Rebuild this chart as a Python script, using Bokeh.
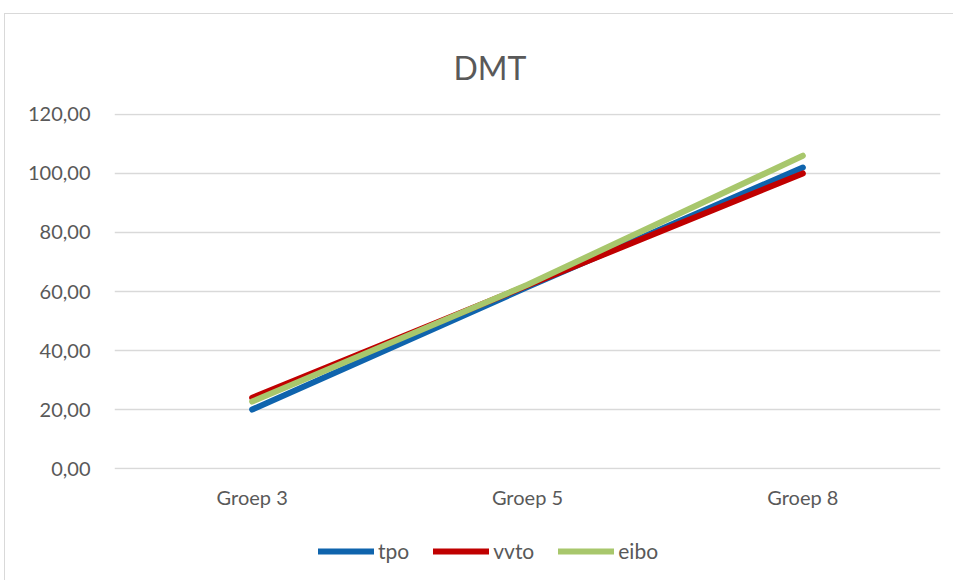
from bokeh.plotting import figure
from bokeh.layouts import column
from bokeh.models import FixedTicker, Legend, LegendItem, Title, Range1d
from bokeh.embed import file_html
from bokeh.resources import INLINE

categories = ["Groep 3", "Groep 5", "Groep 8"]
tpo = [20.0, 61.5, 102.0]
vvto = [24.0, 62.0, 100.0]
eibo = [22.7, 62.3, 106.0]
series_names = ["tpo", "vvto", "eibo"]
series_colors = ["#0F64AD", "#C00000", "#A8C76C"]
y_ticks = [0, 20, 40, 60, 80, 100, 120]
y_labels = ["0,00", "20,00", "40,00", "60,00", "80,00", "100,00", "120,00"]

FONT = "Lato"
GREY = "#595959"
BORDER = "1px solid #d9d9d9"

p = figure(x_range=categories, y_range=Range1d(-0.3, 120.3), width=949, height=511,
           output_backend="svg", toolbar_location=None,
           min_border_left=109, min_border_right=14, min_border_top=99,
           min_border_bottom=56)
p.styles = {"margin-left": "4px", "margin-top": "13px",
            "border-left": BORDER, "border-top": BORDER}
p.x_range.range_padding = 0
p.outline_line_color = None

title = Title(text="DMT", align="left", vertical_align="top", text_font=FONT,
              text_font_size="32px", text_font_style="normal", text_color=GREY,
              offset=339, standoff=50)
p.add_layout(title, "above")

for vals, col in zip([tpo, vvto, eibo], series_colors):
    p.line(categories, vals, line_color=col, line_width=6, line_cap="round",
           line_join="round")

p.yaxis.ticker = FixedTicker(ticks=y_ticks)
p.yaxis.major_label_overrides = {t: l for t, l in zip(y_ticks, y_labels)}
for ax in (p.xaxis[0], p.yaxis[0]):
    ax.axis_line_color = None
    ax.major_tick_line_color = None
    ax.minor_tick_line_color = None
    ax.major_label_text_font = FONT
    ax.major_label_text_font_size = "20px"
    ax.major_label_text_color = GREY
p.yaxis.major_label_standoff = 18
p.xaxis.major_label_standoff = 9

p.xgrid.grid_line_color = None
p.ygrid.grid_line_color = "#d9d9d9"
p.ygrid.grid_line_width = 1.3

# legend strip below the chart (its frame is aligned with the chart frame)
lg = figure(width=949, height=56, x_range=Range1d(0, 1), y_range=Range1d(0, 1),
            output_backend="svg", toolbar_location=None,
            x_axis_type=None, y_axis_type=None,
            min_border_left=0, min_border_right=0, min_border_top=0,
            min_border_bottom=0)
lg.styles = {"margin-left": "4px", "border-left": BORDER}
lg.outline_line_color = None
lg.xgrid.visible = False
lg.ygrid.visible = False
items = []
for name, col in zip(series_names, series_colors):
    # off-screen proxy line, only used for the legend swatch
    r = lg.line([5, 6], [5, 6], line_color=col, line_width=6, line_cap="round")
    items.append(LegendItem(label=name, renderers=[r]))
legend = Legend(items=items, orientation="horizontal", location=(204, 17),
                label_text_font=FONT, label_text_font_size="21px",
                label_text_color=GREY, glyph_width=56, glyph_height=20,
                label_standoff=4, spacing=24, border_line_color=None,
                background_fill_alpha=0, padding=0, margin=0)
lg.add_layout(legend)

layout = column(p, lg, spacing=0)
open("out.html", "w").write(file_html(layout, INLINE))
